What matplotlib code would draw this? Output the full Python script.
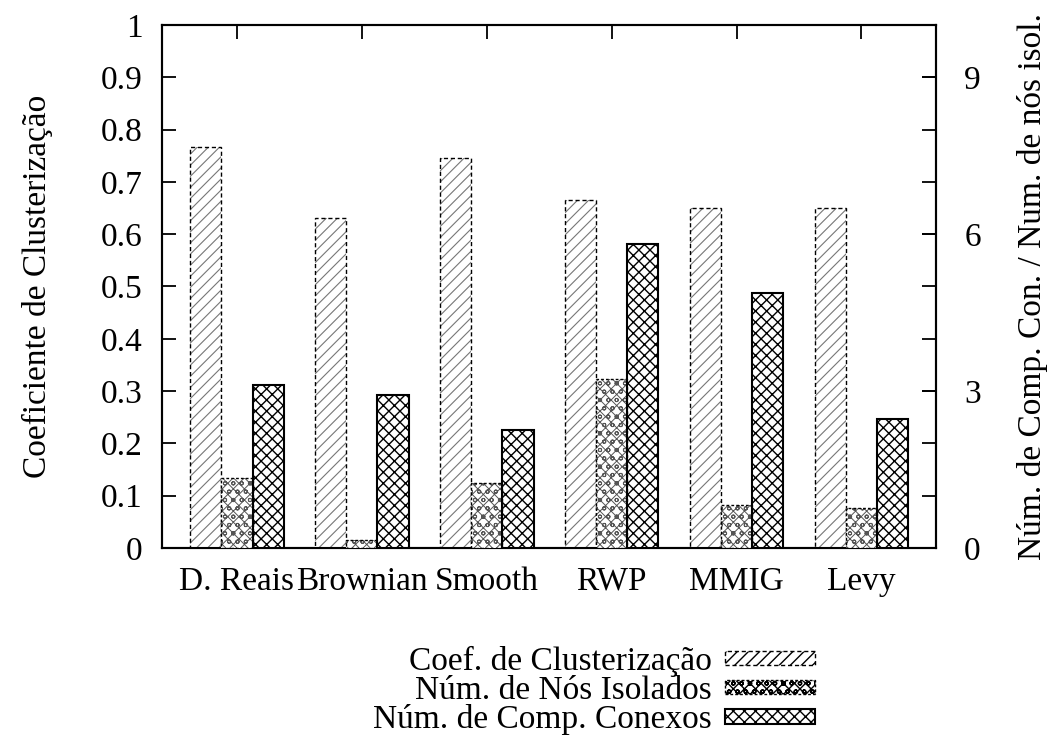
import matplotlib
matplotlib.use("Agg")
import matplotlib.pyplot as plt
from matplotlib.patches import Patch
import numpy as np

plt.rcParams["font.family"] = ["Liberation Serif", "DejaVu Serif"]

models = ["D. Reais", "Brownian", "Smooth", "RWP", "MMIG", "Levy"]
coef_clusterizacao = [0.767, 0.631, 0.746, 0.665, 0.650, 0.650]
nos_isolados = [1.34, 0.15, 1.24, 3.23, 0.82, 0.76]
comp_conexos = [3.11, 2.93, 2.26, 5.82, 4.87, 2.46]

series_labels = ["Coef. de Clusterização", "Núm. de Nós Isolados", "Núm. de Comp. Conexos"]

FS = 24

fig = plt.figure(figsize=(10.54, 7.49), dpi=100)
ax = fig.add_axes([0.1537, 0.2684, 0.8884 - 0.1537, 0.9666 - 0.2684])
ax2 = ax.twinx()

x = np.arange(len(models))
w = 0.25

# light hatching first, then a crisp outline on top of it
styles = [
    dict(hatch="///", hcolor="#777777", hlw=0.8, ls=(0, (3, 2)), lw=1.0),
    dict(hatch="xxxoo", hcolor="#555555", hlw=0.7, ls=(0, (2, 1.5)), lw=1.0),
    dict(hatch="xxx", hcolor="#000000", hlw=1.0, ls="-", lw=1.5),
]

def draw_series(axis, xpos, vals, st):
    with plt.rc_context({"hatch.linewidth": st["hlw"]}):
        axis.bar(xpos, vals, w, facecolor="white", edgecolor=st["hcolor"],
                 linewidth=0, hatch=st["hatch"], zorder=3)
    axis.bar(xpos, vals, w, facecolor="none", edgecolor="black",
             linestyle=st["ls"], linewidth=st["lw"], zorder=4)

draw_series(ax, x - w, coef_clusterizacao, styles[0])
# the two count series share the secondary (0-10) axis
draw_series(ax2, x, nos_isolados, styles[1])
draw_series(ax2, x + w, comp_conexos, styles[2])

ax.set_xlim(-0.6, 5.6)
ax.set_ylim(0, 1)
ax2.set_ylim(0, 10)
ax.set_xticks(x)
ax.set_xticklabels(models)
ax.set_yticks(np.round(np.arange(0, 1.01, 0.1), 1))
ax.set_yticklabels(["0"] + [f"{v:.1f}" for v in np.arange(0.1, 0.95, 0.1)] + ["1"])
ax2.set_yticks([0, 3, 6, 9])

for a in (ax, ax2):
    for s in a.spines.values():
        s.set_linewidth(1.5)

ax.tick_params(axis="both", direction="in", length=10, width=1.3, labelsize=FS,
               top=True, right=True)
ax.tick_params(axis="y", pad=14)
ax.tick_params(axis="x", pad=13, bottom=False)
ax2.tick_params(axis="y", direction="in", length=10, width=1.3, labelsize=FS, pad=20)
ax.set_axisbelow(True)
ax2.set_axisbelow(True)

ax.set_ylabel("Coeficiente de Clusterização", fontsize=FS, labelpad=34)
ax2.set_ylabel("Núm. de Comp. Con. / Num. de nós isol.", fontsize=FS, labelpad=26)

handles = []
for st in styles:
    with plt.rc_context({"hatch.linewidth": st["hlw"]}):
        handles.append(Patch(facecolor="white", edgecolor="black", hatch=st["hatch"],
                             linestyle=st["ls"], linewidth=st["lw"]))

leg = fig.legend(handles, series_labels, loc="center right",
                 bbox_to_anchor=(0.789, 0.078), frameon=False, fontsize=FS,
                 markerfirst=False, handlelength=2.7, handleheight=0.3,
                 labelspacing=-0.05, handletextpad=0.4, borderpad=0.0)

fig.savefig("out.png", dpi=100)
